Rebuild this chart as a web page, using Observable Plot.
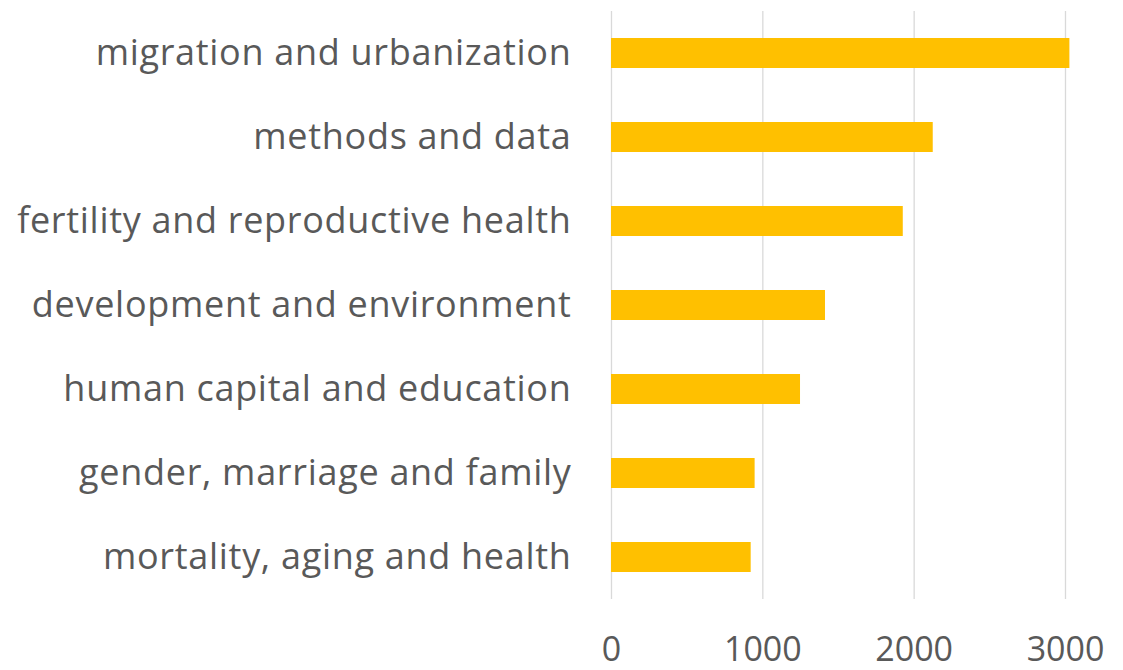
<!DOCTYPE html>
<html>
<head>
<meta charset="utf-8">
<script src="https://cdn.jsdelivr.net/npm/d3@7"></script>
<script src="https://cdn.jsdelivr.net/npm/@observablehq/plot@0.6"></script>
<style>
  html, body { margin: 0; padding: 0; background: #fff; }
  #chart { width: 1123px; height: 670px; overflow: hidden; }
  .ylab text { letter-spacing: 0.7px; }
</style>
</head>
<body>
<div id="chart"></div>
<script>
const categories = [
  "migration and urbanization",
  "methods and data",
  "fertility and reproductive health",
  "development and environment",
  "human capital and education",
  "gender, marriage and family",
  "mortality, aging and health"
];
const counts = [3029, 2126, 1928, 1414, 1249, 949, 923];
const xTicks = [0, 1000, 2000, 3000];

const data = categories.map((c, i) => ({category: c, value: counts[i]}));

const chart = Plot.plot({
  width: 1123,
  height: 670,
  marginTop: 11,
  marginBottom: 71,
  marginLeft: 611,
  marginRight: 58,
  style: {fontFamily: "'Open Sans', sans-serif", background: "#fff", overflow: "visible"},
  x: {domain: [0, 3000]},
  y: {domain: categories, paddingInner: 0.643, paddingOuter: 0.32},
  marks: [
    Plot.gridX(xTicks, {stroke: "#d9d9d9", strokeOpacity: 1, strokeWidth: 1.3}),
    Plot.barX(data, {x: "value", y: "category", fill: "#FFC000"}),
    Plot.axisX(xTicks, {tickSize: 0, tickPadding: 37, fontSize: 34, fill: "#595959", label: null, tickFormat: d => String(d)}),
    Plot.axisY({tickSize: 0, tickPadding: 40, fontSize: 36, fill: "#595959", label: null, className: "ylab"})
  ]
});
document.getElementById("chart").appendChild(chart);
</script>
</body>
</html>
